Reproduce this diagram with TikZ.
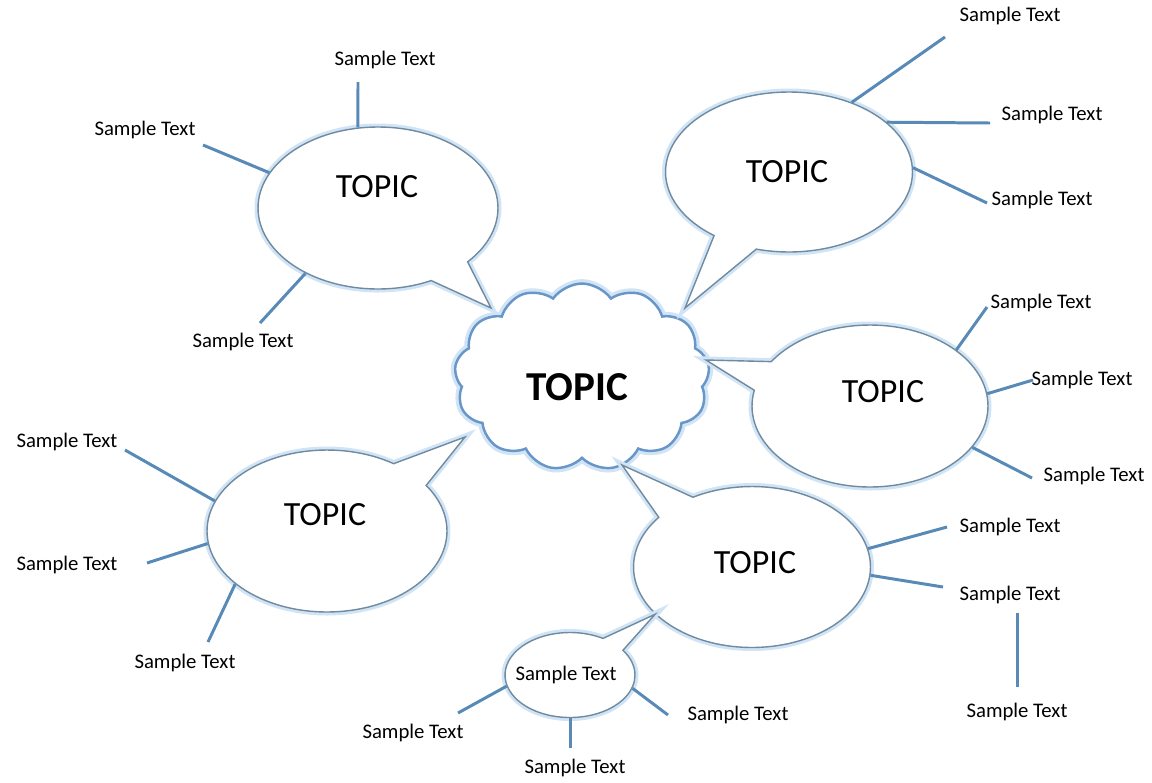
\documentclass[tikz,border=0pt]{standalone}
\usepackage{fontspec}
\setmainfont{Carlito}
\usetikzlibrary{shapes.symbols,shapes.callouts}
\definecolor{spokeblue}{RGB}{88,138,184}
\definecolor{rimgray}{RGB}{112,138,160}
\definecolor{glowblue}{RGB}{208,228,245}
\definecolor{cloudblue}{RGB}{105,150,200}
\tikzset{
	bubble/.style={ellipse callout,draw=rimgray,line width=0.8pt,fill=white,
		preaction={draw=glowblue,line width=4pt},callout pointer arc=22,inner sep=0pt},
	topic/.style={font=\fontsize{19.3}{22}\selectfont},
	bigtopic/.style={font=\bfseries\fontsize{23.4}{28}\selectfont},
	sample/.style={font=\fontsize{11.8}{14}\selectfont,inner sep=1pt},
	spoke/.style={draw=spokeblue,line width=1.7pt}
}
\begin{document}
\begin{tikzpicture}[x=0.02cm,y=-0.02cm]
		\useasboundingbox (0,0) rectangle (1152,782);

		\node[cloud,cloud puffs=13,cloud puff arc=110,cloud ignores aspect,
			draw=cloudblue,line width=1.4pt,fill=white,preaction={draw=glowblue,line width=5pt},
			minimum width=5.1cm,minimum height=3.74cm] (cloud) at (582,377) {};
		\node[bigtopic] (ctext) at (577,387) {TOPIC};

		\coordinate (p1) at (491,308);
		\coordinate (p2) at (685,308);
		\coordinate (p3) at (706,360);
		\coordinate (p4) at (465,437);
		\coordinate (p5) at (622,465);

		\node[bubble,minimum width=4.8cm,minimum height=3.24cm,callout absolute pointer={(p1)}] (b1) at (378,208) {};
		\node[bubble,minimum width=4.94cm,minimum height=3.2cm,callout absolute pointer={(p2)}] (b2) at (789,172) {};
		\node[bubble,minimum width=4.72cm,minimum height=3.24cm,callout absolute pointer={(p3)}] (b3) at (870,406) {};
		\node[bubble,minimum width=4.8cm,minimum height=3.24cm,callout absolute pointer={(p4)}] (b4) at (327,531) {};
		\node[bubble,minimum width=4.74cm,minimum height=3.22cm,callout absolute pointer={(p5)}] (b5) at (752,567) {};
		\node[bubble,callout pointer arc=24,minimum width=2.6cm,minimum height=1.7cm,callout absolute pointer={(b5.206)}] (b6) at (570,675) {};

		\node[topic] (t1) at (377,187) {TOPIC};
		\node[topic] (t2) at (787,172) {TOPIC};
		\node[topic] (t3) at (883,392) {TOPIC};
		\node[topic] (t4) at (325,515) {TOPIC};
		\node[topic] (t5) at (755,563) {TOPIC};
		\node[sample] (t6) at (566,675) {Sample Text};

		\node[sample] (s1a) at (385,60)  {Sample Text};
		\node[sample] (s1b) at (145,130) {Sample Text};
		\node[sample] (s1c) at (243,342) {Sample Text};
		\node[sample] (s2a) at (1010,16) {Sample Text};
		\node[sample] (s2b) at (1052,115) {Sample Text};
		\node[sample] (s2c) at (1042,200) {Sample Text};
		\node[sample] (s3a) at (1041,303) {Sample Text};
		\node[sample] (s3b) at (1082,380) {Sample Text};
		\node[sample] (s3c) at (1094,476) {Sample Text};
		\node[sample] (s4a) at (67,442)  {Sample Text};
		\node[sample] (s4b) at (67,565)  {Sample Text};
		\node[sample] (s4c) at (185,663) {Sample Text};
		\node[sample] (s5a) at (1010,527) {Sample Text};
		\node[sample] (s5b) at (1010,595) {Sample Text};
		\node[sample] (s5c) at (1017,712) {Sample Text};
		\node[sample] (s6a) at (413,733) {Sample Text};
		\node[sample] (s6b) at (738,715) {Sample Text};
		\node[sample] (s6c) at (575,768) {Sample Text};

		\coordinate (e1a) at (358,82);
		\coordinate (e1b) at (203,145);
		\coordinate (e1c) at (260,323);
		\coordinate (e2a) at (945,37);
		\coordinate (e2b) at (990,123);
		\coordinate (e2c) at (987,203);
		\coordinate (e3a) at (987,307);
		\coordinate (e3b) at (1033,380);
		\coordinate (e3c) at (1032,478);
		\coordinate (e4a) at (125,450);
		\coordinate (e4b) at (147,563);
		\coordinate (e4c) at (208,642);
		\coordinate (e5a) at (947,527);
		\coordinate (e5b) at (943,587);
		\coordinate (e6a) at (458,713);
		\coordinate (e6b) at (668,715);
		\coordinate (e6c) at (570,748);

		\draw[spoke] (b1.104) -- (e1a);
		\draw[spoke] (b1.162) -- (e1b);
		\draw[spoke] (b1.222) -- (e1c);
		\draw[spoke] (b2.48) -- (e2a);
		\draw[spoke] (b2.27.5) -- (e2b);
		\draw[spoke] (b2.2.4) -- (e2c);
		\draw[spoke] (b3.33.7) -- (e3a);
		\draw[spoke] (b3.6.7) -- (e3b);
		\draw[spoke] (b3.338) -- (e3c);
		\draw[spoke] (b4.165) -- (e4a);
		\draw[spoke] (b4.186) -- (e4b);
		\draw[spoke] (b4.210) -- (e4c);
		\draw[spoke] (b5.9) -- (e5a);
		\draw[spoke] (b5.356) -- (e5b);
		\draw[spoke,shorten <=4pt,shorten >=8pt] (s5c.north |- s5b.south) -- (s5c.north);
		\draw[spoke] (b6.190) -- (e6a);
		\draw[spoke] (b6.348) -- (e6b);
		\draw[spoke] (b6.270) -- (e6c);
	\end{tikzpicture}
\end{document}
